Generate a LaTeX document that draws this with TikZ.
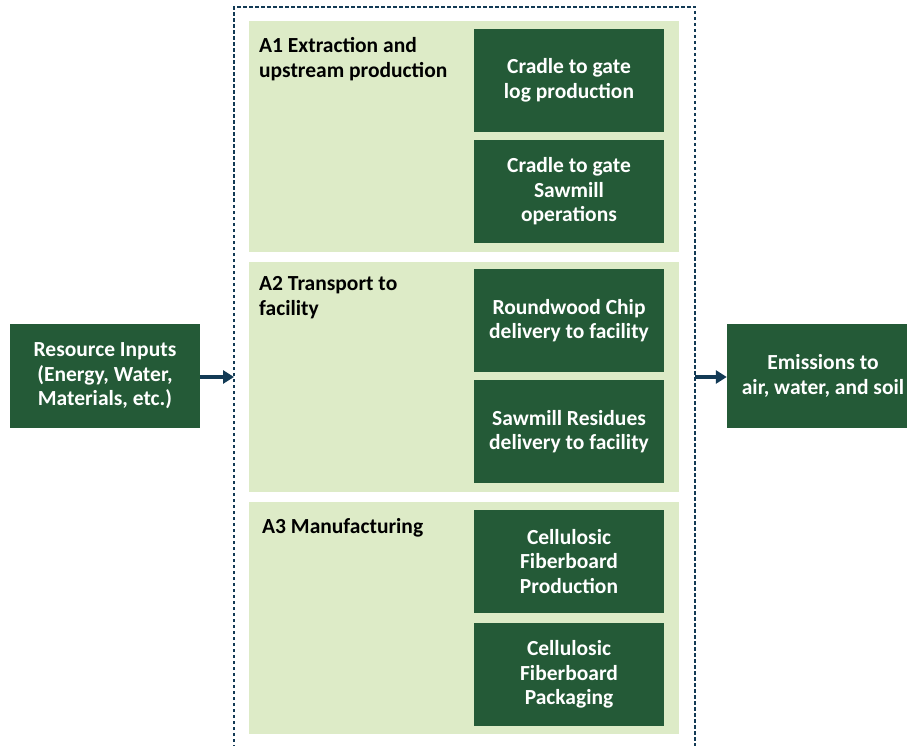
\documentclass[tikz,border=0pt]{standalone}
\usepackage{fontspec}
\setmainfont{Carlito}
\usetikzlibrary{arrows.meta}
\definecolor{dk}{HTML}{245A37}
\definecolor{lt}{HTML}{DDEBC7}
\definecolor{nv}{HTML}{123A55}
\begin{document}
\begin{tikzpicture}[x=1pt,y=-1pt,
  dark/.style={fill=dk, text=white, font=\bfseries\fontsize{21.5}{24.5}\selectfont, align=center, inner sep=0pt, minimum width=190pt, minimum height=103pt},
  panel/.style={fill=lt, draw=none, inner sep=0pt, minimum width=430pt},
  lbl/.style={font=\bfseries\fontsize{21.5}{25}\selectfont, align=left, inner sep=0pt, anchor=north west, text=black},
  flow/.style={nv, line width=3.5pt, -{Triangle[length=11pt,width=13pt]}},
  bound/.style={nv, line width=1.1pt, dash pattern=on 3.5pt off 2.5pt}]
\useasboundingbox (0,0) rectangle (907,746);
% dashed system boundary
\draw[bound] (234,760) -- (234,7) -- (695,7) -- (695,760);
% panels
\node[panel, minimum height=231pt] (p1) at (464,136.5) {};
\node[panel, minimum height=230pt] (p2) at (464,377) {};
\node[panel, minimum height=232pt] (p3) at (464,618) {};
% panel labels
\node[lbl] (l1) at (259,37) {A1 Extraction and\\upstream production};
\node[lbl] (l2) at (259,276) {A2 Transport to\\facility};
\node[lbl] (l3) at (262,518) {A3 Manufacturing};
% process boxes
\node[dark] (b1) at (569,80.5) {Cradle to gate\\log production};
\node[dark] (b2) at (569,191.5) {Cradle to gate\\Sawmill\\operations};
\node[dark] (b3) at (569,320.5) {Roundwood Chip\\delivery to facility};
\node[dark] (b4) at (569,431.5) {Sawmill Residues\\delivery to facility};
\node[dark] (b5) at (569,561.5) {Cellulosic\\Fiberboard\\Production};
\node[dark] (b6) at (569,674.5) {Cellulosic\\Fiberboard\\Packaging};
% inputs / outputs
\node[dark, minimum width=190pt, minimum height=104pt] (in) at (105,376) {Resource Inputs\\(Energy, Water,\\Materials, etc.)};
\node[dark, minimum width=192pt, minimum height=104pt] (out) at (823,376) {Emissions to\\air, water, and soil};
\coordinate (inEnd) at (234,377);
\coordinate (outStart) at (695,377);
\draw[flow] (in.east |- inEnd) -- (inEnd);
\draw[flow] (outStart) -- (out.west |- outStart);
\end{tikzpicture}
\end{document}
